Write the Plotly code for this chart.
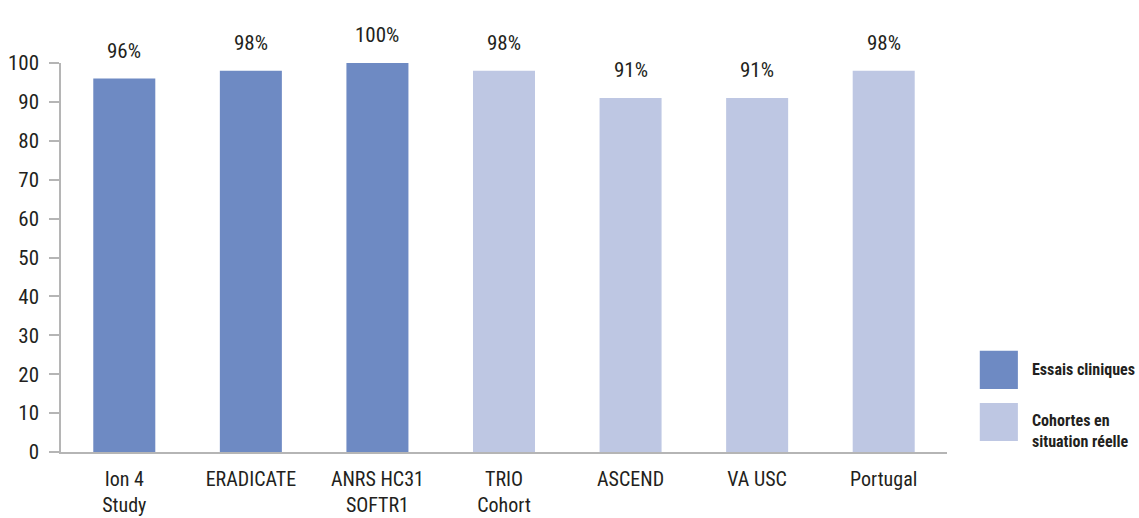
import plotly.graph_objects as go

categories = ["Ion 4<br>Study", "ERADICATE", "ANRS HC31<br>SOFTR1", "TRIO<br>Cohort",
              "ASCEND", "VA USC", "Portugal"]
rates = [96, 98, 100, 98, 91, 91, 98]
groups = ["Essais cliniques"] * 3 + ["Cohortes en situation réelle"] * 4
group_names = ["Essais cliniques", "Cohortes en situation réelle"]
group_labels = ["Essais cliniques", "Cohortes en<br>situation réelle"]
group_colors = ["#6e8ac3", "#bec7e3"]
y_ticks = list(range(0, 101, 10))

FONT = "Roboto Condensed, Liberation Sans Narrow, Roboto, sans-serif"
TEXT = "#231f20"
AXIS = "#b5b5b5"

fig = go.Figure()
for name, color in zip(group_names, group_colors):
    xs = [c for c, g in zip(categories, groups) if g == name]
    ys = [v for v, g in zip(rates, groups) if g == name]
    fig.add_trace(go.Bar(x=xs, y=ys, name=name, marker_color=color,
                         marker_line_width=0, showlegend=False))

# value labels above each bar
for c, v in zip(categories, rates):
    fig.add_annotation(x=c, y=v, text=f"{v}%", showarrow=False, yanchor="bottom",
                       yshift=14, font=dict(family=FONT, size=21, color=TEXT))

# custom legend with large swatches (swatch centre, text centre)
legend_pos = [(0.211, 0.211), (0.077, 0.054)]
for label, color, (ys, yt) in zip(group_labels, group_colors, legend_pos):
    fig.add_shape(type="rect", xref="paper", yref="paper",
                  x0=1.037, x1=1.080, y0=ys - 0.049, y1=ys + 0.049,
                  fillcolor=color, line_width=0)
    fig.add_annotation(xref="paper", yref="paper", x=1.094, y=yt, text=f"<b>{label}</b>",
                       showarrow=False, xanchor="left", yanchor="middle", align="left",
                       font=dict(family=FONT, size=16, color=TEXT))

fig.update_layout(
    width=1139, height=518,
    margin=dict(l=61, r=192, t=63, b=66, autoexpand=False),
    paper_bgcolor="white", plot_bgcolor="white",
    bargap=0.51, barmode="overlay",
    font=dict(family=FONT, size=20, color=TEXT),
    xaxis=dict(categoryorder="array", categoryarray=categories, automargin=False,
               showline=True, linecolor=AXIS, linewidth=1.5, ticks="",
               showgrid=False, ticklabelstandoff=8,
               tickfont=dict(family=FONT, size=20, color=TEXT)),
    yaxis=dict(range=[0, 100], tickvals=y_ticks, showline=True, linecolor=AXIS,
               automargin=False,
               linewidth=1.5, ticks="outside", ticklen=10, tickcolor=AXIS, tickwidth=1.5,
               showgrid=False, zeroline=False, ticklabelstandoff=6,
               tickfont=dict(family=FONT, size=21, color=TEXT)),
)

fig.write_html("out.html")
